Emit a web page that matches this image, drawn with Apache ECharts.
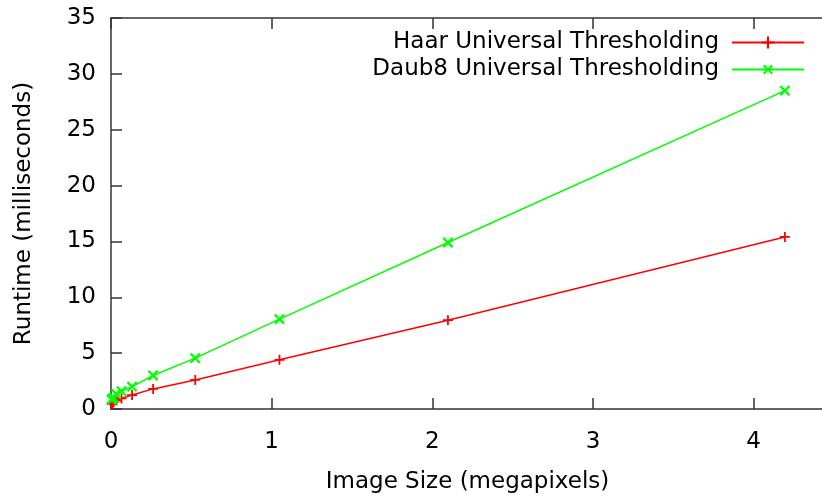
<!DOCTYPE html>
<html>
<head>
<meta charset="utf-8">
<script src="https://cdn.jsdelivr.net/npm/echarts@6/dist/echarts.min.js"></script>
<style>
  html, body { margin: 0; padding: 0; background: #fff; }
  #chart { width: 822px; height: 496px; }
</style>
</head>
<body>
<div id="chart"></div>
<script>
// Image sizes in megapixels (each step doubles the pixel count)
const imageSizes = [0.004096, 0.008192, 0.016384, 0.032768, 0.065536, 0.131072, 0.262144, 0.524288, 1.048576, 2.097152, 4.194304];
// Runtime in milliseconds
const haarRuntime  = [0.45, 0.5, 0.6, 0.75, 0.95, 1.25, 1.8, 2.6, 4.4, 7.95, 15.4];
const daub8Runtime = [0.85, 0.9, 1.0, 1.35, 1.6, 2.0, 3.0, 4.55, 8.05, 14.9, 28.5];

const seriesNames = ['Haar Universal Thresholding', 'Daub8 Universal Thresholding'];
const xTitle = 'Image Size (megapixels)';
const yTitle = 'Runtime (milliseconds)';

const FONT = 'DejaVu Sans';
const FS = 23;
const BORDER = '#333';

// filled plus shape; rotated 45 degrees it becomes a cross
const PLUS = 'path://M4.1,0H5.9V4.1H10V5.9H5.9V10H4.1V5.9H0V4.1H4.1Z';

const pairs = (xs, ys) => xs.map((x, i) => [x, ys[i]]);

const xBase = { type: 'value', min: 0, max: 4.5, interval: 1 };
const yBase = { type: 'value', min: 0, max: 35, interval: 5 };
const tick = { show: true, inside: true, length: 11, lineStyle: { color: BORDER, width: 1.5 } };
const line = { show: true, onZero: false, lineStyle: { color: BORDER, width: 1.5 } };

const chart = echarts.init(document.getElementById('chart'), null, { renderer: 'canvas' });
chart.setOption({
  animation: false,
  backgroundColor: '#fff',
  grid: {
    left: 111, right: -12, top: 18, bottom: 87,
    show: false, containLabel: false, outerBoundsMode: 'none'
  },
  legend: {
    orient: 'vertical',
    right: 12,
    top: 26,
    align: 'right',
    itemWidth: 72,
    itemHeight: 15,
    itemGap: 4,
    textStyle: { fontFamily: FONT, fontSize: FS, lineHeight: 23, color: '#000', padding: [0, 8, 0, 0] },
    data: seriesNames
  },
  xAxis: [
    Object.assign({}, xBase, {
      position: 'bottom',
      name: xTitle, nameLocation: 'middle', nameGap: 62,
      nameTextStyle: { fontFamily: FONT, fontSize: FS, color: '#000', padding: [0, 10, 0, 0] },
      axisLine: line, axisTick: tick, splitLine: { show: false },
      axisLabel: { fontFamily: FONT, fontSize: FS, color: '#000', margin: 22, showMaxLabel: false }
    }),
    Object.assign({}, xBase, {
      position: 'top',
      axisLine: line, axisTick: tick, splitLine: { show: false },
      axisLabel: { show: false }
    })
  ],
  yAxis: [
    Object.assign({}, yBase, {
      position: 'left',
      name: yTitle, nameLocation: 'middle', nameGap: 75, nameRotate: 90,
      nameTextStyle: { fontFamily: FONT, fontSize: FS, color: '#000' },
      axisLine: line, axisTick: tick, splitLine: { show: false },
      axisLabel: { fontFamily: FONT, fontSize: FS, color: '#000', margin: 15 }
    }),
    Object.assign({}, yBase, {
      position: 'right',
      axisLine: line, axisTick: tick, splitLine: { show: false },
      axisLabel: { show: false }
    })
  ],
  series: [
    {
      name: seriesNames[0], type: 'line',
      data: pairs(imageSizes, haarRuntime),
      symbol: PLUS, symbolSize: 10,
      color: '#ff0000',
      lineStyle: { color: '#ff0000', width: 1.5 },
      itemStyle: { color: '#ff0000' }
    },
    {
      name: seriesNames[1], type: 'line',
      data: pairs(imageSizes, daub8Runtime),
      symbol: PLUS, symbolSize: 13, symbolRotate: 45,
      color: '#00ff00',
      lineStyle: { color: '#00ff00', width: 1.5 },
      itemStyle: { color: '#00ff00' }
    }
  ]
});
</script>
</body>
</html>
